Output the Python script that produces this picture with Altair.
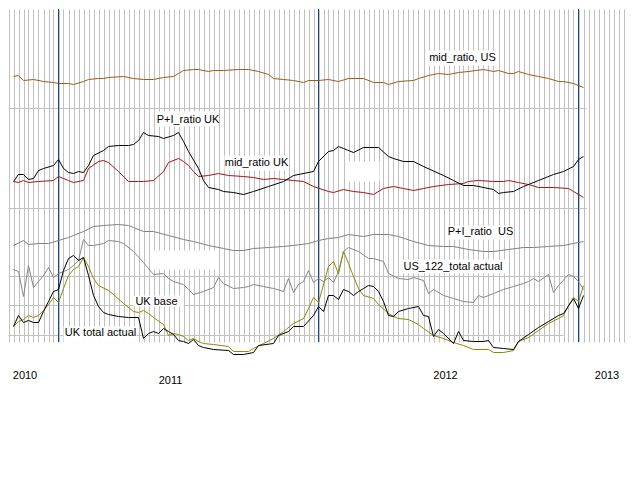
import altair as alt
import pandas as pd

# ---- series (week index, level) ----
mid_us_w = [1,2,3,5,7,9,10,12,13,15,16,18,19,20,23,25,27,29,31,33,34,35,37,38,40,41,43,46,48,50,52,53,55,57,59,60,62,64,66,68,71,73,75,76,78,81,82,84,86,88,90,92,95,97,98,100,101,102,104,106,108,110,111,113,114,115]
mid_us_v = [265,266,261,262,260,259,258,258,257,260,262,263,263,264,265,263,262,262,264,265,268,271,272,272,270,271,271,272,272,270,267,263,262,261,259,261,261,262,260,263,263,259,259,257,260,261,263,266,268,267,269,270,272,270,271,268,268,270,267,265,263,260,260,258,256,254]

pi_uk_w = [1,2,3,4,5,6,7,9,10,11,12,13,14,15,16,17,19,20,22,24,25,26,27,28,30,31,33,34,35,36,38,39,40,42,43,45,47,49,52,55,57,61,62,64,65,66,67,69,71,74,76,77,79,81,83,87,89,91,93,97,98,99,101,103,106,109,111,113,114,115]
pi_uk_v = [160,167,167,162,163,171,173,176,182,173,169,168,170,169,176,186,191,195,196,196,197,201,209,206,205,203,206,209,200,190,173,161,154,152,150,149,147,150,155,160,166,170,180,190,191,195,193,189,194,194,185,183,180,180,175,166,161,156,156,152,148,149,150,155,161,167,170,175,182,185]

mid_uk_w = [1,2,3,4,6,9,10,11,12,13,15,16,18,19,20,22,24,26,27,29,31,32,34,35,36,37,38,40,42,44,47,49,51,53,55,57,59,61,64,65,67,69,71,73,75,77,79,81,83,85,88,91,92,94,97,99,100,102,104,106,109,112,113,115]
mid_uk_v = [160,159,161,159,160,161,165,163,161,159,161,173,180,181,179,170,160,160,160,161,170,179,183,180,176,170,165,166,168,166,165,164,162,163,162,161,160,155,150,149,152,150,149,147,153,155,153,151,153,155,157,158,160,161,160,160,161,159,157,154,154,153,150,144]

pi_us_w = [1,3,4,6,8,10,12,13,15,17,19,22,24,25,27,29,32,35,37,40,43,45,47,49,52,55,57,60,62,64,66,68,71,73,76,78,81,84,87,89,92,95,97,100,103,105,108,111,113,115]
pi_us_v = [96,101,97,98,98,101,104,106,110,115,116,117,116,114,110,110,106,102,100,96,93,91,91,93,94,95,96,98,101,103,104,107,105,107,107,105,100,96,95,95,92,90,90,92,94,94,95,96,98,100]

us122_w = [1,2,3,4,5,6,7,8,9,10,11,12,13,14,15,16,17,19,20,22,23,25,27,28,29,31,32,33,35,36,37,39,41,42,43,45,47,48,49,51,53,55,56,57,58,59,60,61,62,63,64,65,66,67,68,70,72,73,75,76,78,80,81,83,84,85,87,89,91,93,94,95,97,99,101,103,104,105,106,108,109,110,112,113,114,115]
us122_v = [72,70,45,76,54,60,66,74,64,68,70,72,76,81,102,96,96,98,101,100,98,90,79,73,67,68,63,60,57,52,47,50,54,64,58,53,54,55,57,55,53,50,63,49,57,60,71,59,63,60,64,59,70,90,94,90,83,83,80,68,63,62,64,61,48,52,46,43,40,39,46,44,48,52,55,58,60,63,60,67,49,56,67,65,60,52]

uk_base_w = [1,2,3,4,5,6,7,8,9,10,11,12,13,14,15,16,17,18,20,21,23,25,26,27,28,29,31,32,33,34,35,36,37,38,39,41,44,45,47,48,49,51,53,55,57,59,60,61,62,64,65,66,67,68,69,70,71,73,74,76,77,78,80,82,83,85,87,89,91,93,96,97,99,101,102,104,106,108,110,111,112,113,114,115]
uk_base_v = [15,20,22,26,24,26,31,37,44,39,53,66,72,75,84,75,63,56,51,47,38,30,29,31,28,24,17,6,8,7,5,1,3,0,-2,-3,-5,-10,-10,-10,-7,-2,3,10,18,23,33,44,39,75,80,68,90,78,65,53,46,43,37,28,25,23,22,17,13,6,3,-1,-4,-8,-8,-11,-11,-9,0,4,11,18,23,26,36,44,40,56]

uk_tot_w = [1,2,3,4,5,6,7,8,9,10,11,12,13,14,15,16,17,18,19,20,22,24,26,27,28,29,30,31,32,33,34,35,36,37,38,39,41,44,45,47,49,50,53,54,56,57,59,61,62,63,64,65,66,67,68,69,70,71,72,73,74,75,76,77,78,80,82,83,84,85,86,87,89,90,91,93,95,96,97,99,101,102,104,106,108,110,111,113,114,115]
uk_tot_v = [15,26,19,21,19,19,30,40,50,52,71,83,86,81,84,66,46,35,29,27,25,24,24,3,8,10,8,13,10,7,1,0,-2,2,-4,-6,-8,-9,-13,-13,-11,-4,-2,6,10,15,15,26,35,30,46,46,42,52,50,46,50,53,56,55,50,40,26,25,30,33,35,26,25,5,12,8,-2,10,1,0,0,1,-6,-7,-8,0,7,14,20,26,28,43,33,46]

series = [
    ("mid_ratio, US", mid_us_w, mid_us_v, "#9b5b17"),
    ("mid_ratio UK", mid_uk_w, mid_uk_v, "#a31515"),
    ("P+I_ratio UK", pi_uk_w, pi_uk_v, "#000000"),
    ("P+I_ratio US", pi_us_w, pi_us_v, "#808080"),
    ("US_122_total actual", us122_w, us122_v, "#858585"),
    ("UK base", uk_base_w, uk_base_v, "#8a8a00"),
    ("UK total actual", uk_tot_w, uk_tot_v, "#000000"),
]

# ---- decorations ----
grid_weeks = list(range(0, 125))
season_weeks = [10, 62, 114]
hgrid_level = [233, 133, 65, 36, 6]
hgrid_end = [115.6, 115.6, 115, 111, 111]

box_w1 = [84, 29.6, 43.2, 67.6, 88, 78.6, 28.6, 25, 11]
box_w2 = [97.4, 42, 56, 74.2, 101, 99.4, 41.8, 35, 25.6]
box_v1 = [276, 215, 171, 160, 102, 68, 72, 35, -1]
box_v2 = [291, 230, 186, 180, 116, 82, 91, 46, 15]

label_text = ["mid_ratio, US", "P+I_ratio UK", "mid_ratio UK", "P+I_ratio\u00a0\u00a0US",
              "US_122_total actual", "UK base", "UK total actual"]
label_w = [90.8, 35.9, 49.6, 94.4, 88.9, 29.6, 18.4]
label_v = [284, 222, 179, 110, 75, 40, 9]

year_text = ["2010", "2011", "2012", "2013"]
year_w = [3.3, 32.4, 87.4, 119.7]
year_v = [-34, -39, -34, -34]

FONT = "Liberation Sans"

X = alt.X("week:Q", scale=alt.Scale(domain=[-0.1, 123.9], nice=False, zero=False),
          axis=alt.Axis(values=grid_weeks, grid=True, gridColor="#c0c0c0", gridWidth=1,
                        labels=False, ticks=False, domain=False),
          title=None)
Y = alt.Y("value:Q", scale=alt.Scale(domain=[-0.5, 332.5], nice=False, zero=False), axis=None)

hgrid_df = pd.DataFrame({"week": [0] * len(hgrid_level), "week2": hgrid_end, "value": hgrid_level})
hgrid = alt.Chart(hgrid_df).mark_rule(color="#c0c0c0", strokeWidth=1).encode(
    x=X, x2="week2:Q", y=Y)

blue = alt.Chart(pd.DataFrame({"week": season_weeks})).mark_rule(
    color="#0f4a92", strokeWidth=1).encode(x=X)

box_df = pd.DataFrame({"week": box_w1, "week2": box_w2, "value": box_v1, "value2": box_v2})
boxes = alt.Chart(box_df).mark_rect(color="white").encode(
    x=X, x2="week2:Q", y=Y, y2="value2:Q")

layers = [hgrid, blue, boxes]
for name, ws, vs, col in series:
    d = pd.DataFrame({"week": ws, "value": vs})
    layers.append(alt.Chart(d).mark_line(color=col, strokeWidth=1).encode(x=X, y=Y))

lab_df = pd.DataFrame({"week": label_w, "value": label_v, "label": label_text})
labels = alt.Chart(lab_df).mark_text(font=FONT, fontSize=11, color="black",
                                     align="center", baseline="middle").encode(
    x=X, y=Y, text="label:N")
yr_df = pd.DataFrame({"week": year_w, "value": year_v, "label": year_text})
years = alt.Chart(yr_df).mark_text(font=FONT, fontSize=11, color="black",
                                   align="center", baseline="middle").encode(
    x=X, y=Y, text="label:N")
layers += [labels, years]

chart = alt.layer(*layers).properties(
    width=620, height=333, padding=0, background="white"
).configure_view(strokeWidth=0)

chart.save("out.html", embed_options={"renderer": "svg", "actions": False})
